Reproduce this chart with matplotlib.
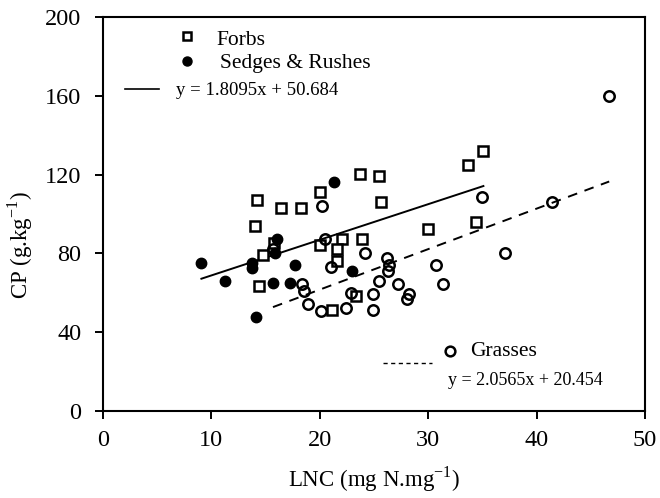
import matplotlib
matplotlib.use('Agg')
import matplotlib.pyplot as plt
import numpy as np

plt.rcParams['font.family'] = ['Liberation Serif', 'DejaVu Serif']
plt.rcParams['mathtext.fontset'] = 'custom'
plt.rcParams['mathtext.rm'] = 'Liberation Serif'

# Forbs (open squares)
forbs_x = [14.25, 16.4, 18.3, 14.0, 15.8, 14.8, 14.4, 20.0, 23.7, 25.5, 25.7,
           20.0, 22.1, 23.9, 21.6, 21.6, 23.4, 21.1, 30.0, 34.4, 33.7, 35.1]
forbs_y = [107.1, 103.2, 103.2, 94.1, 85.1, 79.2, 63.5, 111.3, 120.1, 119.3, 106.2,
           84.3, 87.2, 87.2, 82.2, 76.3, 58.4, 51.3, 92.2, 96.1, 124.9, 132.1]

# Sedges & Rushes (filled circles)
sedges_x = [9.1, 11.3, 13.8, 13.8, 14.1, 15.7, 15.9, 16.1, 17.3, 17.7, 21.3, 23.0]
sedges_y = [75.3, 66.1, 75.3, 72.4, 47.6, 65.1, 80.4, 87.2, 65.1, 74.1, 116.1, 71.1]

# Grasses (open circles)
grasses_x = [46.7, 41.4, 35.0, 37.1, 30.7, 31.4, 28.2, 28.1, 27.2, 26.2, 26.4, 26.3, 25.5,
             24.9, 24.9, 24.2, 22.9, 22.4, 21.05, 20.5, 20.2, 20.1, 18.9, 18.6, 18.4, 15.7]
grasses_y = [160, 106, 108.5, 80, 74.3, 64.3, 59.5, 57, 64.5, 77.5, 74.1, 71.2, 66.1,
             59.2, 51.3, 80, 60.1, 52.1, 73.3, 87.2, 104.1, 50.9, 54.3, 61.1, 64.5, 82]

# regression lines given in the figure
fit1 = (1.8095, 50.684)
fit2 = (2.0565, 20.454)

fig = plt.figure(figsize=(6.6, 4.98), dpi=100)
ax = fig.add_axes([102.7/660, 1 - 411/498, (645 - 102.7)/660, (411 - 17)/498])

ax.plot(forbs_x, forbs_y, 's', ms=7, mfc='white', mec='black', mew=1.8, ls='none', zorder=3)
ax.plot(sedges_x, sedges_y, 'o', ms=7.5, mfc='black', mec='black', ls='none', zorder=3)
ax.plot(grasses_x, grasses_y, 'o', ms=7.5, mfc='none', mec='black', mew=1.8, ls='none', zorder=3)

# fitted lines over the range of their data
x1 = np.array([min(forbs_x + sedges_x), max(forbs_x + sedges_x)])
ax.plot(x1, fit1[0]*x1 + fit1[1], '-', color='black', lw=1.4, zorder=2)
x2 = np.array([min(grasses_x), max(grasses_x)])
ax.plot(x2, fit2[0]*x2 + fit2[1], '--', color='black', lw=1.4, dashes=(5, 4), zorder=2)

ax.set_xlim(0, 50)
ax.set_ylim(0, 200)
ax.set_xticks([0, 10, 20, 30, 40, 50])
ax.set_yticks([0, 40, 80, 120, 160, 200])
ax.tick_params(direction='out', length=5.5, width=1.4, labelsize=17.5,
               top=False, right=False)
ax.tick_params(axis='x', pad=8)
ax.tick_params(axis='y', pad=10)
for s in ax.spines.values():
    s.set_linewidth(1.5)

ax.set_xlabel(r'LNC (mg N.mg$^{\mathregular{-1}}$)', fontsize=16.5)
ax.set_ylabel(r'CP (g.kg$^{\mathregular{-1}}$)', fontsize=16.5)
ax.xaxis.set_label_coords(0.5, -0.135)
ax.yaxis.set_label_coords(-0.125, 0.42)


# legend entries, placed by pixel position of the original figure
def fr(px, py):
    return (px - 102.7)/(645 - 102.7), (411 - py)/(411 - 17)


tr = ax.transAxes
ax.plot(*fr(187.3, 36), 's', ms=6, mfc='white', mec='black', mew=1.8, transform=tr, clip_on=False)
ax.text(*fr(216, 40), 'Forbs', fontsize=15.5, va='center', ha='left', transform=tr)
ax.plot(*fr(187.3, 61), 'o', ms=6.5, mfc='black', mec='black', transform=tr, clip_on=False)
ax.text(*fr(220, 63), 'Sedges & Rushes', fontsize=15.5, va='center', ha='left', transform=tr)
lx0, ly = fr(125, 89.3)
lx1, _ = fr(159.3, 89.3)
ax.plot([lx0, lx1], [ly, ly], '-', color='black', lw=1.2, transform=tr, clip_on=False)
ax.text(*fr(176, 90), 'y = 1.8095x + 50.684', fontsize=13.5, va='center', ha='left', transform=tr)

ax.plot(*fr(450, 350.7), 'o', ms=7, mfc='none', mec='black', mew=1.8, transform=tr, clip_on=False)
ax.text(*fr(470, 351), 'Grasses', fontsize=15.5, va='center', ha='left', transform=tr)
dx0, dy = fr(383, 362.7)
dx1, _ = fr(431.7, 362.7)
ax.plot([dx0, dx1], [dy, dy], '--', color='black', lw=1.0, dashes=(3, 2.5), transform=tr, clip_on=False)
ax.text(*fr(447.7, 380), 'y = 2.0565x + 20.454', fontsize=13, va='center', ha='left', transform=tr)

fig.savefig('out.png', dpi=100)
